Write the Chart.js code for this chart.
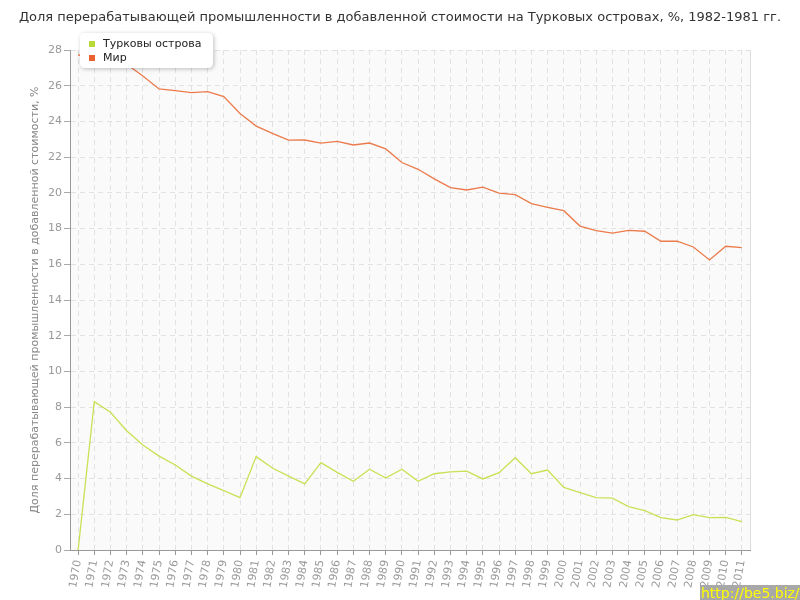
<!DOCTYPE html>
<html>
<head>
<meta charset="utf-8">
<script src="https://cdn.jsdelivr.net/npm/chart.js@4/dist/chart.umd.min.js"></script>
<style>
html,body{margin:0;padding:0;background:#fff;}
#wrap{width:800px;height:600px;position:relative;}
</style>
</head>
<body>
<div id="wrap"><canvas id="c" width="800" height="600"></canvas></div>
<script>
const chartTitle = 'Доля перерабатывающей промышленности в добавленной стоимости на Турковых островах, %, 1982-1981 гг.';
const yAxisTitle = 'Доля перерабатывающей промышленности в добавленной стоимости, %';
const years = ['1970','1971','1972','1973','1974','1975','1976','1977','1978','1979','1980','1981','1982','1983','1984','1985','1986','1987','1988','1989','1990','1991','1992','1993','1994','1995','1996','1997','1998','1999','2000','2001','2002','2003','2004','2005','2006','2007','2008','2009','2010','2011'];
const seriesNames = ['Турковы острова', 'Мир'];
const turks = [0, 8.31, 7.71, 6.68, 5.88, 5.26, 4.76, 4.14, 3.70, 3.32, 2.93, 5.23, 4.59, 4.14, 3.70, 4.89, 4.35, 3.85, 4.52, 4.03, 4.52, 3.85, 4.27, 4.37, 4.42, 3.98, 4.33, 5.17, 4.27, 4.48, 3.51, 3.21, 2.93, 2.90, 2.43, 2.20, 1.81, 1.68, 1.98, 1.81, 1.83, 1.59];
const world = [27.72, 27.6, 27.45, 27.2, 26.55, 25.82, 25.72, 25.61, 25.67, 25.39, 24.45, 23.74, 23.33, 22.95, 22.96, 22.79, 22.88, 22.68, 22.79, 22.46, 21.70, 21.32, 20.78, 20.29, 20.16, 20.32, 19.99, 19.90, 19.40, 19.19, 19.00, 18.14, 17.88, 17.75, 17.90, 17.85, 17.29, 17.30, 16.97, 16.24, 17.01, 16.93];
const yTicks = [0,2,4,6,8,10,12,14,16,18,20,22,24,26,28];
const watermark = 'http://be5.biz/';

const lineColors = ['#c9e155', '#ec7b4c'];
const swatchColors = ['#b9d93a', '#e8612e'];
const FONT = "'DejaVu Sans', Verdana, sans-serif";

const decor = {
  id: 'decor',
  beforeDraw(chart) {
    const {ctx, chartArea: a} = chart;
    ctx.save();
    ctx.fillStyle = '#fafafa';
    ctx.fillRect(a.left, a.top, a.right - a.left, a.bottom - a.top);
    ctx.restore();
  },
  afterDraw(chart) {
    const {ctx, chartArea: a} = chart;
    ctx.save();
    // right border
    ctx.strokeStyle = '#dddddd';
    ctx.lineWidth = 1;
    ctx.beginPath();
    ctx.moveTo(a.right + 0.5, a.top);
    ctx.lineTo(a.right + 0.5, a.bottom);
    ctx.stroke();
    // title
    ctx.fillStyle = '#333333';
    ctx.font = '13px ' + FONT;
    ctx.textAlign = 'center';
    ctx.textBaseline = 'middle';
    ctx.fillText(chartTitle, 400, 18);
    // legend box
    const bx = 80, by = 33, bw = 133, bh = 35, r = 5;
    ctx.shadowColor = 'rgba(0,0,0,0.25)';
    ctx.shadowBlur = 4;
    ctx.shadowOffsetX = 1;
    ctx.shadowOffsetY = 1;
    ctx.fillStyle = '#ffffff';
    ctx.beginPath();
    ctx.moveTo(bx + r, by);
    ctx.lineTo(bx + bw - r, by);
    ctx.quadraticCurveTo(bx + bw, by, bx + bw, by + r);
    ctx.lineTo(bx + bw, by + bh - r);
    ctx.quadraticCurveTo(bx + bw, by + bh, bx + bw - r, by + bh);
    ctx.lineTo(bx + r, by + bh);
    ctx.quadraticCurveTo(bx, by + bh, bx, by + bh - r);
    ctx.lineTo(bx, by + r);
    ctx.quadraticCurveTo(bx, by, bx + r, by);
    ctx.closePath();
    ctx.fill();
    ctx.shadowColor = 'transparent';
    ctx.shadowBlur = 0;
    ctx.shadowOffsetX = 0;
    ctx.shadowOffsetY = 0;
    ctx.font = '11px ' + FONT;
    ctx.textAlign = 'left';
    ctx.textBaseline = 'middle';
    const rows = [44, 58];
    seriesNames.forEach((n, i) => {
      ctx.fillStyle = swatchColors[i];
      ctx.fillRect(89, rows[i] - 3, 6, 6);
      ctx.fillStyle = '#222222';
      ctx.fillText(n, 103, rows[i]);
    });
    // watermark
    ctx.fillStyle = '#a8a8a8';
    ctx.fillRect(700, 585, 100, 15);
    ctx.fillStyle = '#ffff00';
    ctx.font = '14px ' + FONT;
    ctx.textAlign = 'left';
    ctx.textBaseline = 'middle';
    ctx.fillText(watermark, 701, 594);
    ctx.restore();
  }
};

new Chart(document.getElementById('c'), {
  type: 'line',
  data: {
    labels: years,
    datasets: [
      { label: seriesNames[0], data: turks, borderColor: lineColors[0], backgroundColor: lineColors[0], borderWidth: 1.3, pointRadius: 0, tension: 0 },
      { label: seriesNames[1], data: world, borderColor: lineColors[1], backgroundColor: lineColors[1], borderWidth: 1.3, pointRadius: 0, tension: 0 }
    ]
  },
  options: {
    responsive: false,
    animation: false,
    events: [],
    layout: { padding: { left: 0, top: 50, right: 50, bottom: 0 } },
    plugins: { legend: { display: false }, tooltip: { enabled: false }, title: { display: false } },
    scales: {
      x: {
        type: 'category',
        offset: true,
        afterFit(s) { s.height = 50; },
        border: { display: true, color: '#999999', width: 1, dash: [5, 4] },
        grid: { offset: false, color: '#e2e2e2', drawTicks: true, tickLength: 5, tickColor: '#999999', tickBorderDash: [] },
        ticks: { autoSkip: false, minRotation: 80, maxRotation: 80, padding: 4, color: '#999999', font: { family: FONT, size: 11 } }
      },
      y: {
        min: 0, max: 28,
        afterFit(s) { s.width = 70; },
        afterBuildTicks(s) { s.ticks = yTicks.map(v => ({ value: v })); },
        border: { display: true, color: '#999999', width: 1, dash: [5, 4] },
        grid: { color: '#e2e2e2', drawTicks: true, tickLength: 6, tickColor: '#aaaaaa', tickBorderDash: [] },
        ticks: { padding: 2, color: '#999999', font: { family: FONT, size: 11 } },
        title: { display: true, text: yAxisTitle, color: '#888888', padding: { top: 29, bottom: 0 }, font: { family: FONT, size: 11 } }
      }
    }
  },
  plugins: [decor]
});
</script>
</body>
</html>
